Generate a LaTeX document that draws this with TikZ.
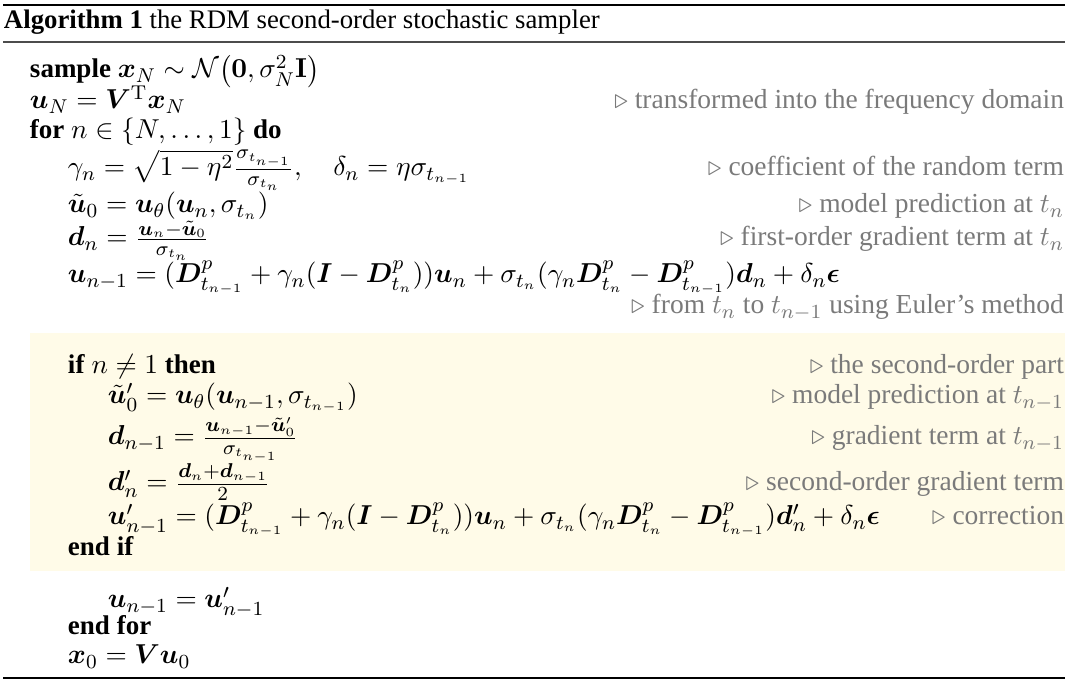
\documentclass[tikz,border=0pt]{standalone}
\usepackage{amsmath,amssymb}
\usepackage{bm}
\usepackage[no-math]{fontspec}
\setmainfont{Liberation Serif}
\definecolor{hlbg}{RGB}{255,251,232}
\definecolor{cmtgray}{RGB}{122,122,122}
\tikzset{
  lnnode/.style={anchor=base west, inner sep=0pt, outer sep=0pt, font=\fontsize{10.8}{13}\selectfont},
  capnode/.style={anchor=base west, inner sep=0pt, outer sep=0pt, font=\fontsize{10.7}{13}\selectfont},
  cmtnode/.style={anchor=base east, inner sep=0pt, outer sep=0pt, text=cmtgray, font=\fontsize{11}{13}\selectfont},
}
\newcommand{\cmt}[1]{$\triangleright$ #1}
\begin{document}
\begin{tikzpicture}[x=0.4pt,y=-0.4pt]
\useasboundingbox (0,0) rectangle (1069,684);
\fill[hlbg] (30,333) rectangle (1065,571);
\draw[line width=0.8pt] (3,5) -- (1065,5);
\draw[line width=0.5pt, black!70] (3,42) -- (1065,42);
\draw[line width=0.6pt] (3,678) -- (1065,678);
% caption
\node[capnode] (cap) at (4,29) {\textbf{Algorithm 1} the RDM second-order stochastic sampler};
% level positions
\def\La{30}\def\Lb{68}\def\Lc{108}\def\R{1064}
\node[lnnode] (l1) at (\La,78) {\textbf{sample} $\bm{x}_N \sim \mathcal{N}\bigl(\bm{0}, \sigma_N^2\mathbf{I}\bigr)$};
\node[lnnode] (l2) at (\La,109) {$\bm{u}_N = \bm{V}^{\mathrm{T}}\bm{x}_N$};
\node[cmtnode] (c2) at (\R,109) {\cmt{transformed into the frequency domain}};
\node[lnnode] (l3) at (\La,139) {\textbf{for} $n \in \{N,\dots,1\}$ \textbf{do}};
\node[lnnode] (l4) at (\Lb,176) {$\gamma_n = \sqrt{1-\eta^2}\frac{\sigma_{t_{n-1}}}{\sigma_{t_n}},\quad \delta_n = \eta\sigma_{t_{n-1}}$};
\node[cmtnode] (c4) at (\R,176) {\cmt{coefficient of the random term}};
\node[lnnode] (l5) at (\Lb,213) {$\tilde{\bm{u}}_0 = \bm{u}_\theta(\bm{u}_n, \sigma_{t_n})$};
\node[cmtnode] (c5) at (\R,213) {\cmt{model prediction at $t_n$}};
\node[lnnode] (l6) at (\Lb,246) {$\bm{d}_n = \frac{\bm{u}_n - \tilde{\bm{u}}_0}{\sigma_{t_n}}$};
\node[cmtnode] (c6) at (\R,246) {\cmt{first-order gradient term at $t_n$}};
\node[lnnode] (l7) at (\Lb,283) {$\bm{u}_{n-1} = (\bm{D}^p_{t_{n-1}} + \gamma_n(\bm{I} - \bm{D}^p_{t_n}))\bm{u}_n + \sigma_{t_n}(\gamma_n\bm{D}^p_{t_n} - \bm{D}^p_{t_{n-1}})\bm{d}_n + \delta_n\bm{\epsilon}$};
\node[cmtnode] (c7) at (\R,314) {\cmt{from $t_n$ to $t_{n-1}$ using Euler's method}};
\node[lnnode] (l8) at (\Lb,374) {\textbf{if} $n \neq 1$ \textbf{then}};
\node[cmtnode] (c8) at (\R,374) {\cmt{the second-order part}};
\node[lnnode] (l9) at (\Lc,404) {$\tilde{\bm{u}}'_0 = \bm{u}_\theta(\bm{u}_{n-1}, \sigma_{t_{n-1}})$};
\node[cmtnode] (c9) at (\R,404) {\cmt{model prediction at $t_{n-1}$}};
\node[lnnode] (l10) at (\Lc,445) {$\bm{d}_{n-1} = \frac{\bm{u}_{n-1}-\tilde{\bm{u}}'_0}{\sigma_{t_{n-1}}}$};
\node[cmtnode] (c10) at (\R,445) {\cmt{gradient term at $t_{n-1}$}};
\node[lnnode] (l11) at (\Lc,491) {$\bm{d}'_n = \frac{\bm{d}_n+\bm{d}_{n-1}}{2}$};
\node[cmtnode] (c11) at (\R,491) {\cmt{second-order gradient term}};
\node[lnnode] (l12) at (\Lc,525) {$\bm{u}'_{n-1} = (\bm{D}^p_{t_{n-1}} + \gamma_n(\bm{I} - \bm{D}^p_{t_n}))\bm{u}_n + \sigma_{t_n}(\gamma_n\bm{D}^p_{t_n} - \bm{D}^p_{t_{n-1}})\bm{d}'_n + \delta_n\bm{\epsilon}$};
\node[cmtnode] (c12) at (\R,525) {\cmt{correction}};
\node[lnnode] (l13) at (\Lb,556) {\textbf{end if}};
\node[lnnode] (l14) at (\Lc,608) {$\bm{u}_{n-1} = \bm{u}'_{n-1}$};
\node[lnnode] (l15) at (\Lb,635) {\textbf{end for}};
\node[lnnode] (l16) at (\Lb,664) {$\bm{x}_0 = \bm{V}\bm{u}_0$};
\end{tikzpicture}
\end{document}
